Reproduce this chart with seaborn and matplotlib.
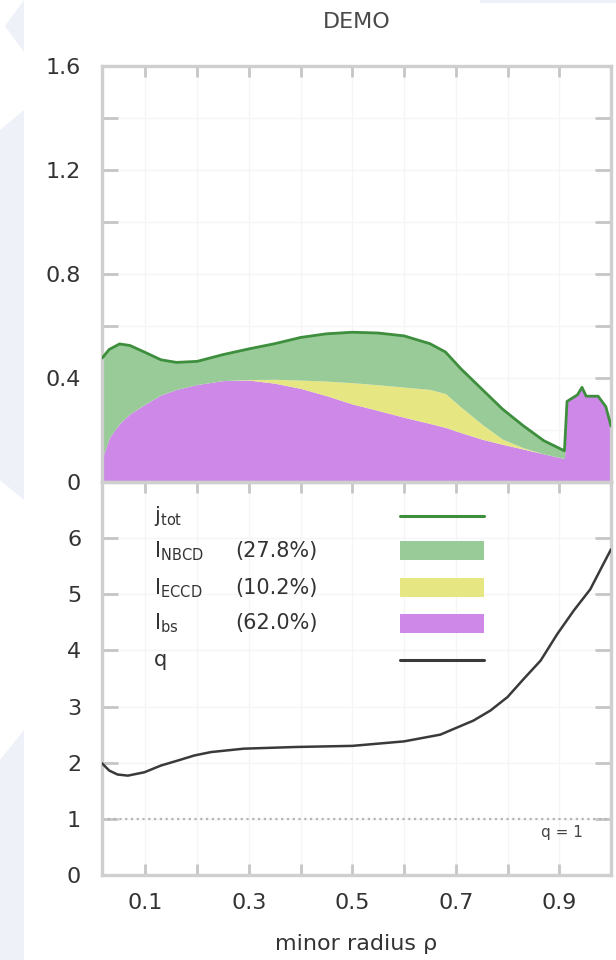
import numpy as np
import pandas as pd
import matplotlib
matplotlib.use("Agg")
import matplotlib.pyplot as plt
from matplotlib.patches import Polygon, Rectangle
from matplotlib.lines import Line2D
from matplotlib.ticker import MultipleLocator, FixedLocator, FuncFormatter
import seaborn as sns

# ---------------- data ----------------
rho_j = [0.016, 0.03, 0.05, 0.07, 0.10, 0.13, 0.16, 0.20, 0.25, 0.30, 0.35, 0.40,
         0.45, 0.50, 0.55, 0.60, 0.65, 0.68, 0.71, 0.75, 0.79, 0.83, 0.87, 0.91,
         0.915, 0.935, 0.944, 0.952, 0.975, 0.99, 1.0]
j_tot = [0.476, 0.51, 0.531, 0.525, 0.498, 0.47, 0.46, 0.464, 0.49, 0.512, 0.532, 0.556,
         0.57, 0.576, 0.573, 0.562, 0.532, 0.50, 0.435, 0.358, 0.281, 0.217, 0.159, 0.12,
         0.31, 0.335, 0.364, 0.33, 0.33, 0.29, 0.215]
j_bs = [0.088, 0.17, 0.225, 0.262, 0.30, 0.335, 0.356, 0.375, 0.39, 0.392, 0.38, 0.36,
        0.332, 0.30, 0.275, 0.249, 0.225, 0.21, 0.19, 0.165, 0.145, 0.127, 0.108, 0.09,
        0.31, 0.335, 0.364, 0.33, 0.33, 0.29, 0.215]
j_eccd = [0, 0, 0, 0, 0, 0, 0, 0, 0, 0.002, 0.015, 0.032,
          0.056, 0.082, 0.099, 0.116, 0.131, 0.13, 0.098, 0.058, 0.02, 0.005, 0, 0,
          0, 0, 0, 0, 0, 0, 0]

rho_q = [0.016, 0.03, 0.046, 0.066, 0.098, 0.13, 0.163, 0.195, 0.227, 0.29, 0.39, 0.5,
         0.6, 0.67, 0.734, 0.767, 0.8, 0.831, 0.864, 0.896, 0.928, 0.96, 0.983, 1.0]
q_vals = [1.99, 1.86, 1.79, 1.77, 1.83, 1.95, 2.04, 2.13, 2.19, 2.25, 2.28, 2.30,
          2.38, 2.50, 2.75, 2.93, 3.17, 3.49, 3.82, 4.29, 4.71, 5.09, 5.5, 5.8]

legend_labels = [r"j$_{\mathrm{tot}}$", r"I$_{\mathrm{NBCD}}$", r"I$_{\mathrm{ECCD}}$",
                 r"I$_{\mathrm{bs}}$", "q"]
legend_pct = ["", "(27.8%)", "(10.2%)", "(62.0%)", ""]
x_major = [0.1, 0.3, 0.5, 0.7, 0.9]
x_minor = [0.2, 0.4, 0.6, 0.8]
title = "DEMO"
xlabel = "minor radius \u03c1"

# ---------------- style ----------------
sns.set_theme(style="white")
plt.rcParams["font.family"] = ["DejaVu Sans"]
plt.rcParams["mathtext.fontset"] = "dejavusans"

C_GREEN_FILL = "#99cb99"
C_GREEN_LINE = "#3d8e3d"
C_YELLOW = "#e6e683"
C_PURPLE = "#cd88e8"
C_Q = "#3a3a3a"
C_FRAME = "#cfcfcf"
C_TICK = "#c6c6c6"
C_GRID = "#f5f5f5"
C_TEXT = "#333333"
C_BG = "#eef1f8"

W, H = 616, 960
fig = plt.figure(figsize=(W / 100, H / 100), dpi=100)

# decorative pale background shapes (figure pixel coords, y down)
def px(pts):
    return [(x / W, 1 - y / H) for x, y in pts]

for pts in ([(24, 0), (5, 26), (24, 52)],
            [(0, 130), (24, 110), (24, 500), (0, 480)],
            [(0, 760), (24, 730), (24, 960), (0, 960)],
            [(480, 0), (616, 0), (616, 3), (480, 3)]):
    fig.patches.append(Polygon(px(pts), closed=True, transform=fig.transFigure,
                               facecolor=C_BG, edgecolor="none", zorder=0))

left = 102 / W
right = 611 / W
ax_top_b = 1 - 482 / H
ax_top_t = 1 - 66 / H
ax_bot_b = 1 - 875 / H

ax1 = fig.add_axes([left, ax_top_b, right - left, ax_top_t - ax_top_b])
ax2 = fig.add_axes([left, ax_bot_b, right - left, ax_top_b - ax_bot_b])
for ax in (ax1, ax2):
    ax.patch.set_alpha(0.0)

df = pd.DataFrame({"rho": rho_j, "tot": j_tot, "bs": j_bs, "eccd": j_eccd})
df["nbcd"] = df["tot"] - df["bs"] - df["eccd"]
df["lvl_bs"] = df["bs"]
df["lvl_eccd"] = df["bs"] + df["eccd"]
df["lvl_nbcd"] = df["lvl_eccd"] + df["nbcd"]

# ---- top panel: stacked current densities ----
ax1.fill_between(df["rho"], 0, df["lvl_bs"], color=C_PURPLE, lw=0, zorder=1)
ax1.fill_between(df["rho"], df["lvl_bs"], df["lvl_eccd"], color=C_YELLOW, lw=0, zorder=1)
ax1.fill_between(df["rho"], df["lvl_eccd"], df["lvl_nbcd"], color=C_GREEN_FILL, lw=0, zorder=1)
sns.lineplot(data=df, x="rho", y="tot", ax=ax1, color=C_GREEN_LINE, lw=2.0,
             estimator=None, sort=False, zorder=3)

# ---- bottom panel: safety factor ----
dq = pd.DataFrame({"rho": rho_q, "q": q_vals})
sns.lineplot(data=dq, x="rho", y="q", ax=ax2, color=C_Q, lw=1.8,
             estimator=None, sort=False, zorder=3)
ax2.axhline(1.0, color="#b4b4b4", lw=1.6, ls=(0, (1, 1.6)), zorder=2)
ax2.text(0.945, 0.76, "q = 1", ha="right", va="center", fontsize=11, color="#444444")

# ---- axes formatting ----
x0, x1 = 0.016, 1.0
ax1.set_xlim(x0, x1)
ax2.set_xlim(x0, x1)
ax1.set_ylim(0, 1.6)
ax2.set_ylim(0, 7)

for ax in (ax1, ax2):
    ax.xaxis.set_major_locator(FixedLocator(x_major))
    ax.xaxis.set_minor_locator(FixedLocator(x_minor))
    for s in ax.spines.values():
        s.set_color(C_FRAME)
        s.set_linewidth(2.4)
    ax.tick_params(axis="x", which="both", direction="in", top=True, bottom=True,
                   length=8, width=2, color=C_TICK, labelsize=16, labelcolor=C_TEXT, pad=13)
    ax.tick_params(axis="y", which="both", direction="in", left=True, right=True,
                   length=11.5, width=2, color=C_TICK, labelsize=16, labelcolor=C_TEXT, pad=15)
    ax.set_xlabel("")
    ax.set_ylabel("")

ax1.yaxis.set_major_locator(MultipleLocator(0.4))
ax1.yaxis.set_minor_locator(MultipleLocator(0.2))
ax1.yaxis.set_major_formatter(FuncFormatter(lambda v, p: "0" if abs(v) < 1e-9 else f"{v:.1f}"))
ax1.tick_params(axis="x", labelbottom=False)

ax2.set_yticks([0, 1, 2, 3, 4, 5, 6])
ax2.yaxis.set_minor_locator(FixedLocator([7]))
ax2.xaxis.set_major_formatter(FuncFormatter(lambda v, p: f"{v:.1f}"))

# faint grid behind everything
for ax, ylocs in ((ax1, np.arange(0.2, 1.6, 0.2)), (ax2, np.arange(1, 7, 1))):
    for xv in x_major + x_minor:
        ax.axvline(xv, color=C_GRID, lw=1.0, zorder=0.2)
    for yv in ylocs:
        ax.axhline(yv, color=C_GRID, lw=1.0, zorder=0.2)

# ---- manual legend in bottom panel ----
rows_y = [0.914, 0.825, 0.731, 0.640, 0.546]
hx0, hx1 = 0.585, 0.750
kinds = [("line", C_GREEN_LINE), ("patch", C_GREEN_FILL), ("patch", C_YELLOW),
         ("patch", C_PURPLE), ("line", C_Q)]
for yv, lab, pct, (kind, col) in zip(rows_y, legend_labels, legend_pct, kinds):
    ax2.text(0.102, yv, lab, transform=ax2.transAxes, ha="left", va="center",
             fontsize=15, color=C_TEXT, zorder=5)
    if pct:
        ax2.text(0.262, yv, pct, transform=ax2.transAxes, ha="left", va="center",
                 fontsize=15, color=C_TEXT, zorder=5)
    if kind == "line":
        ax2.add_line(Line2D([hx0, hx1], [yv, yv], transform=ax2.transAxes,
                            color=col, lw=2.2, zorder=5))
    else:
        ax2.add_patch(Rectangle((hx0, yv - 0.024), hx1 - hx0, 0.048,
                                transform=ax2.transAxes, facecolor=col,
                                edgecolor="none", zorder=5))

# ---- title and x label ----
fig.text((left + right) / 2, 1 - 22 / H, title, ha="center", va="center",
         fontsize=16, color="#4a4a4a")
fig.text((left + right) / 2, 1 - 944 / H, xlabel, ha="center", va="center",
         fontsize=16, color=C_TEXT)

fig.savefig("out.png", dpi=100, facecolor="white")
